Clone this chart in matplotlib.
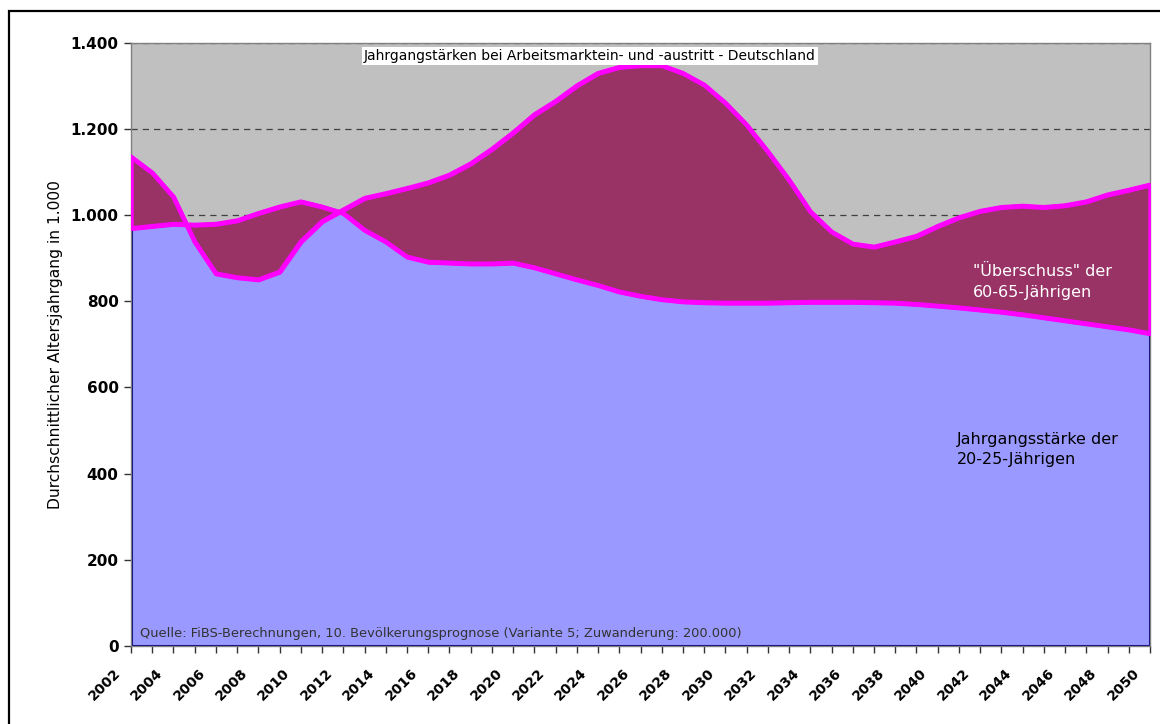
import numpy as np
import matplotlib.pyplot as plt
from matplotlib.patches import Rectangle
from matplotlib.transforms import ScaledTranslation

plt.rcParams['font.family'] = ['DejaVu Sans']

years = np.arange(2002, 2051)

# Jahrgangsstärke der 20-25-Jährigen (in 1.000)
jung = [969, 974, 979, 977, 979, 987, 1004, 1019, 1031, 1019,
        1004, 965, 938, 903, 891, 889, 887, 887, 889, 878,
        864, 850, 837, 822, 812, 804, 799, 797, 796, 796,
        796, 797, 798, 798, 798, 797, 796, 793, 789, 785,
        780, 775, 769, 762, 755, 748, 741, 734, 725]

# Jahrgangsstärke der 60-65-Jährigen (in 1.000)
alt = [1135, 1098, 1042, 938, 864, 855, 850, 868, 938, 985,
       1012, 1039, 1050, 1062, 1075, 1093, 1119, 1153, 1191, 1233,
       1264, 1300, 1329, 1343, 1347, 1347, 1329, 1302, 1260, 1209,
       1147, 1081, 1008, 961, 933, 926, 938, 951, 974, 994,
       1009, 1018, 1021, 1018, 1022, 1031, 1047, 1058, 1070]

y_ticks = [0, 200, 400, 600, 800, 1000, 1200, 1400]

fig = plt.figure(figsize=(11.6, 7.24), dpi=100)
ax = fig.add_axes([131 / 1160, 78 / 724, 1019 / 1160, 603.4 / 724])
ax.set_facecolor('#C0C0C0')

# blaue Fläche: 20-25-Jährige, darüber die Differenz in Weinrot
ax.fill_between(years, 0, jung, facecolor='#9999FF', edgecolor='#000080',
                lw=2.2, zorder=2)
ax.fill_between(years, jung, alt, facecolor='#993366', edgecolor='#FF00FF',
                lw=3.2, zorder=3)
ax.plot(years, jung, color='#FF00FF', lw=3.2, zorder=4)
ax.plot(years, alt, color='#FF00FF', lw=3.2, zorder=4)

ax.set_xlim(2002, 2050)
ax.set_ylim(0, 1400)

ax.set_axisbelow(True)
ax.yaxis.grid(True, ls=(0, (5, 4)), color='#404040', lw=0.9)
ax.set_yticks(y_ticks)
ax.set_yticklabels([f"{v:,}".replace(',', '.') for v in y_ticks],
                   fontsize=11, fontweight='bold')
ax.set_xticks(years[::2])
ax.set_xticks(years, minor=True)
ax.set_xticklabels([])
ax.tick_params(axis='both', which='both', length=5, width=1, color='#333333',
               direction='out')
ax.tick_params(axis='y', pad=4)

# Jahreszahlen schräg, rechts oben an den Strich gehängt (wie Excel)
lab_tr = ax.get_xaxis_transform() + ScaledTranslation(-18 / 100, -20 / 100,
                                                      fig.dpi_scale_trans)
for yr in years[::2]:
    ax.text(yr, 0, str(yr), transform=lab_tr, rotation=45, ha='right', va='top',
            rotation_mode='anchor', fontsize=10, fontweight='bold', clip_on=False)

for s in ax.spines.values():
    s.set_color('#808080')
    s.set_linewidth(1)

ax.set_ylabel('Durchschnittlicher Altersjahrgang in 1.000', fontsize=11.2)
ax.yaxis.set_label_coords(-0.0667, 0.5)

ax.text(0.45, 0.978, 'Jahrgangstärken bei Arbeitsmarktein- und -austritt - Deutschland',
        transform=ax.transAxes, ha='center', va='center', fontsize=10, zorder=6,
        bbox=dict(facecolor='white', edgecolor='none', pad=1.5))
ax.text(0.0088, 0.0215,
        'Quelle: FiBS-Berechnungen, 10. Bevölkerungsprognose (Variante 5; Zuwanderung: 200.000)',
        transform=ax.transAxes, ha='left', va='center', fontsize=9.35,
        color='#333333', zorder=6)
ax.text(0.826, 0.603, '"Überschuss" der\n60-65-Jährigen', transform=ax.transAxes,
        ha='left', va='center', fontsize=11.5, color='white', linespacing=1.45,
        zorder=6)
ax.text(0.8106, 0.3257, 'Jahrgangsstärke der\n20-25-Jährigen', transform=ax.transAxes,
        ha='left', va='center', fontsize=11.5, color='black', linespacing=1.45,
        zorder=6)

fig.add_artist(Rectangle((8.5 / 1160, -0.05), 1.1, 1.05 - 10.5 / 724,
                         transform=fig.transFigure, fill=False,
                         edgecolor='black', lw=1.6))

fig.savefig('out.png', dpi=100)
